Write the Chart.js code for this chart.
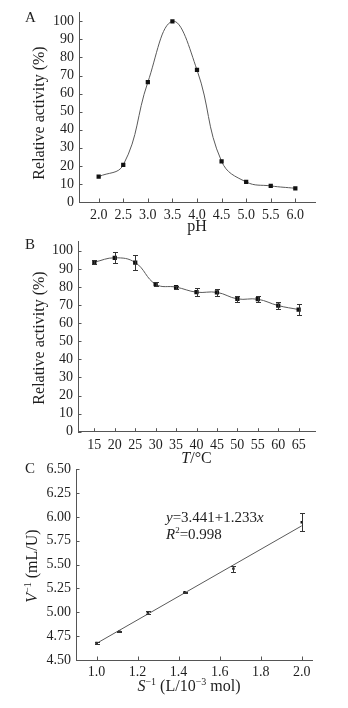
<!DOCTYPE html>
<html>
<head>
<meta charset="utf-8">
<script src="https://cdn.jsdelivr.net/npm/chart.js@4.4.1/dist/chart.umd.min.js"></script>
<style>
  html, body { margin: 0; padding: 0; background: #fff; }
  #wrap { position: relative; width: 348px; height: 708px; overflow: hidden; background: #fff; }
  #wrap canvas { position: absolute; left: 0; display: block; }
</style>
</head>
<body>
<div id="wrap">
  <canvas id="chartPH" width="348" height="236" style="top:0px"></canvas>
  <canvas id="chartTemp" width="348" height="236" style="top:232px"></canvas>
  <canvas id="chartLB" width="348" height="248" style="top:460px"></canvas>
</div>
<script>
// ---- Panel A: pH profile ----
const phValues   = [2.0, 2.5, 3.0, 3.5, 4.0, 4.5, 5.0, 5.5, 6.0];
const phActivity = [14.0, 20.5, 66.3, 100, 73.1, 22.5, 11.1, 8.9, 7.6];
const phTicks    = [2.0, 2.5, 3.0, 3.5, 4.0, 4.5, 5.0, 5.5, 6.0];
const activityTicks = [0, 10, 20, 30, 40, 50, 60, 70, 80, 90, 100];

// ---- Panel B: temperature profile ----
const tempValues   = [15, 20, 25, 30, 35, 40, 45, 50, 55, 60, 65];
const tempActivity = [93.7, 96.1, 93.5, 81.5, 79.9, 77.1, 77.0, 73.4, 73.2, 69.7, 67.5];
const tempError    = [1.0, 3.0, 4.0, 1.0, 0.8, 2.2, 2.0, 1.8, 1.8, 2.0, 3.2];
const tempTicks    = [15, 20, 25, 30, 35, 40, 45, 50, 55, 60, 65];

// ---- Panel C: Lineweaver-Burk plot ----
const invSubstrate      = [1.0, 1.111, 1.25, 1.429, 1.667, 2.0];
const invVelocity       = [4.678, 4.80, 4.997, 5.21, 5.458, 5.944];
const invVelocityError  = [0.010, 0.008, 0.012, 0.008, 0.030, 0.094];
const invSubstrateTicks = [1.0, 1.2, 1.4, 1.6, 1.8, 2.0];
const invVelocityTicks  = [4.50, 4.75, 5.00, 5.25, 5.50, 5.75, 6.00, 6.25, 6.50];
const fitIntercept = 3.441;
const fitSlope     = 1.233;
const fitR2        = 0.998;
const fitRange     = [1.0, 2.0];

const SERIF = "'Liberation Serif', 'Times New Roman', serif";
const INK   = '#1e1e1e';
const AXIS  = '#555';
const CURVE = '#5a5a5a';

const fixedTicks = values => scale => { scale.ticks = values.map(v => ({ value: v })); };

function xAxis(min, max, ticks, dp, height, pad) {
  return {
    type: 'linear', min, max,
    afterBuildTicks: fixedTicks(ticks),
    afterFit: s => { s.height = height; s.paddingLeft = 0; s.paddingRight = 0; s.paddingTop = 0; s.paddingBottom = 0; },
    grid: { display: false, drawTicks: false },
    border: { display: true, color: AXIS, width: 1 },
    ticks: { color: INK, font: { family: SERIF, size: 14 }, padding: pad, maxRotation: 0, autoSkip: false,
             callback: v => Number(v).toFixed(dp) },
    title: { display: false }
  };
}

function yAxis(min, max, ticks, dp, width, pad) {
  return {
    type: 'linear', min, max,
    afterBuildTicks: fixedTicks(ticks),
    afterFit: s => { s.width = width; s.paddingLeft = 0; s.paddingRight = 0; s.paddingTop = 0; s.paddingBottom = 0; },
    grid: { display: false, drawTicks: false },
    border: { display: true, color: AXIS, width: 1 },
    ticks: { color: INK, font: { family: SERIF, size: 14 }, padding: pad, autoSkip: false,
             callback: v => Number(v).toFixed(dp) },
    title: { display: false }
  };
}

// short tick marks pointing into the plot area
const inwardTicks = {
  id: 'inwardTicks',
  afterDraw(chart) {
    const { ctx, chartArea: a, scales: { x, y } } = chart;
    ctx.save();
    ctx.strokeStyle = AXIS;
    ctx.lineWidth = 1;
    ctx.beginPath();
    x.ticks.forEach(t => {
      const px = Math.round(x.getPixelForValue(t.value)) + 0.5;
      ctx.moveTo(px, a.bottom); ctx.lineTo(px, a.bottom - 3.5);
    });
    y.ticks.forEach(t => {
      const py = Math.round(y.getPixelForValue(t.value)) + 0.5;
      ctx.moveTo(a.left, py); ctx.lineTo(a.left + 3.5, py);
    });
    ctx.stroke();
    ctx.restore();
  }
};

function errorBars(datasetIndex, errors, cap) {
  return {
    id: 'errorBars',
    afterDatasetsDraw(chart) {
      const meta = chart.getDatasetMeta(datasetIndex);
      const ds = chart.data.datasets[datasetIndex];
      const ys = chart.scales.y;
      const ctx = chart.ctx;
      ctx.save();
      ctx.strokeStyle = '#333';
      ctx.lineWidth = 1;
      ctx.beginPath();
      meta.data.forEach((pt, i) => {
        const v = ds.data[i].y, e = errors[i];
        const top = Math.round(ys.getPixelForValue(v + e)) + 0.5;
        const bot = Math.round(ys.getPixelForValue(v - e)) + 0.5;
        const px = Math.round(pt.x) + 0.5;
        ctx.moveTo(px, top); ctx.lineTo(px, bot);
        ctx.moveTo(px - cap, top); ctx.lineTo(px + cap, top);
        ctx.moveTo(px - cap, bot); ctx.lineTo(px + cap, bot);
      });
      ctx.stroke();
      ctx.restore();
    }
  };
}

// text runs with mixed italic / superscript pieces
function drawRich(ctx, segs, x, y, size, align) {
  let total = 0;
  const parts = segs.map(s => {
    const fs = s.sup ? Math.round(size * 0.62) : size;
    const font = (s.italic ? 'italic ' : '') + fs + 'px ' + SERIF;
    ctx.font = font;
    const w = ctx.measureText(s.text).width;
    total += w;
    return { text: s.text, font, w, dy: s.sup ? -size * 0.4 : 0 };
  });
  let cx = align === 'center' ? x - total / 2 : x;
  ctx.textAlign = 'left';
  ctx.textBaseline = 'alphabetic';
  parts.forEach(p => { ctx.font = p.font; ctx.fillText(p.text, cx, y + p.dy); cx += p.w; });
}

function richText(items) {
  return {
    id: 'richText',
    afterDraw(chart) {
      const ctx = chart.ctx, a = chart.chartArea;
      items.forEach(it => {
        const [x, y] = it.at(a);
        ctx.save();
        ctx.fillStyle = INK;
        ctx.translate(x, y);
        if (it.rotate) ctx.rotate(-Math.PI / 2);
        drawRich(ctx, it.segs, 0, 0, it.size, it.align || 'left');
        ctx.restore();
      });
    }
  };
}

const plain = t => ({ text: t });
const ital  = t => ({ text: t, italic: true });
const sup   = t => ({ text: t, sup: true });

// ---------- A ----------
new Chart(document.getElementById('chartPH'), {
  type: 'line',
  data: {
    datasets: [{
      data: phValues.map((x, i) => ({ x, y: phActivity[i] })),
      borderColor: CURVE, borderWidth: 1, tension: 0.42,
      pointStyle: 'rect', pointRadius: 3, pointBorderWidth: 0,
      pointBackgroundColor: '#111', fill: false
    }]
  },
  options: {
    responsive: false, animation: false, devicePixelRatio: 1,
    layout: { padding: { left: 0, top: 12.3, right: 33, bottom: 0 } },
    plugins: { legend: { display: false }, tooltip: { enabled: false } },
    scales: {
      x: xAxis(1.6, 6.4, phTicks, 1, 34, 5),
      y: yAxis(0, 105, activityTicks, 0, 79, 5)
    }
  },
  plugins: [inwardTicks, richText([
    { segs: [plain('A')], size: 15, at: () => [25, 22] },
    { segs: [plain('Relative activity (%)')], size: 16, rotate: true, align: 'center', at: () => [43.5, 113] },
    { segs: [plain('pH')], size: 16, align: 'center', at: a => [(a.left + a.right) / 2, 231] }
  ])]
});

// ---------- B ----------
new Chart(document.getElementById('chartTemp'), {
  type: 'line',
  data: {
    datasets: [{
      data: tempValues.map((x, i) => ({ x, y: tempActivity[i] })),
      borderColor: CURVE, borderWidth: 1, tension: 0.42,
      pointStyle: 'rect', pointRadius: 3, pointBorderWidth: 0,
      pointBackgroundColor: '#111', fill: false
    }]
  },
  options: {
    responsive: false, animation: false, devicePixelRatio: 1,
    layout: { padding: { left: 0, top: 9.7, right: 33, bottom: 0 } },
    plugins: { legend: { display: false }, tooltip: { enabled: false } },
    scales: {
      x: xAxis(11, 69, tempTicks, 0, 36.3, 5),
      y: yAxis(0, 105, activityTicks, 0, 78, 5)
    }
  },
  plugins: [inwardTicks, errorBars(0, tempError, 2.5), richText([
    { segs: [plain('B')], size: 15, at: () => [25, 16.7] },
    { segs: [plain('Relative activity (%)')], size: 16, rotate: true, align: 'center', at: () => [43.5, 106] },
    { segs: [ital('T'), plain('/°C')], size: 16, align: 'center', at: a => [(a.left + a.right) / 2, 231] }
  ])]
});

// ---------- C ----------
new Chart(document.getElementById('chartLB'), {
  type: 'line',
  data: {
    datasets: [{
      // regression line y = a + b·x over the measured range
      data: fitRange.map(x => ({ x, y: fitIntercept + fitSlope * x })),
      borderColor: CURVE, borderWidth: 1, tension: 0, pointRadius: 0, fill: false
    }, {
      data: invSubstrate.map((x, i) => ({ x, y: invVelocity[i] })),
      showLine: false,
      pointStyle: 'rect', pointRadius: 1.7, pointBorderWidth: 0,
      pointBackgroundColor: '#111'
    }]
  },
  options: {
    responsive: false, animation: false, devicePixelRatio: 1,
    layout: { padding: { left: 0, top: 9.3, right: 36, bottom: 0 } },
    plugins: { legend: { display: false }, tooltip: { enabled: false } },
    scales: {
      x: xAxis(0.9, 2.05, invSubstrateTicks, 1, 48, 4),
      y: yAxis(4.5, 6.5, invVelocityTicks, 2, 76, 5)
    }
  },
  plugins: [inwardTicks, errorBars(1, invVelocityError, 2.5), richText([
    { segs: [plain('C')], size: 15, at: () => [25, 12.7] },
    { segs: [ital('V'), sup('−1'), plain(' (mL/U)')], size: 16, rotate: true, align: 'center', at: () => [37, 106] },
    { segs: [ital('S'), sup('−1'), plain(' (L/10'), sup('−3'), plain(' mol)')], size: 16, align: 'center', at: () => [189, 231] },
    { segs: [ital('y'), plain('=' + fitIntercept.toFixed(3) + '+' + fitSlope.toFixed(3)), ital('x')], size: 15, at: a => [a.left + 90, a.top + 52.7] },
    { segs: [ital('R'), sup('2'), plain('=' + fitR2.toFixed(3))], size: 15, at: a => [a.left + 90, a.top + 70] }
  ])]
});
</script>
</body>
</html>
